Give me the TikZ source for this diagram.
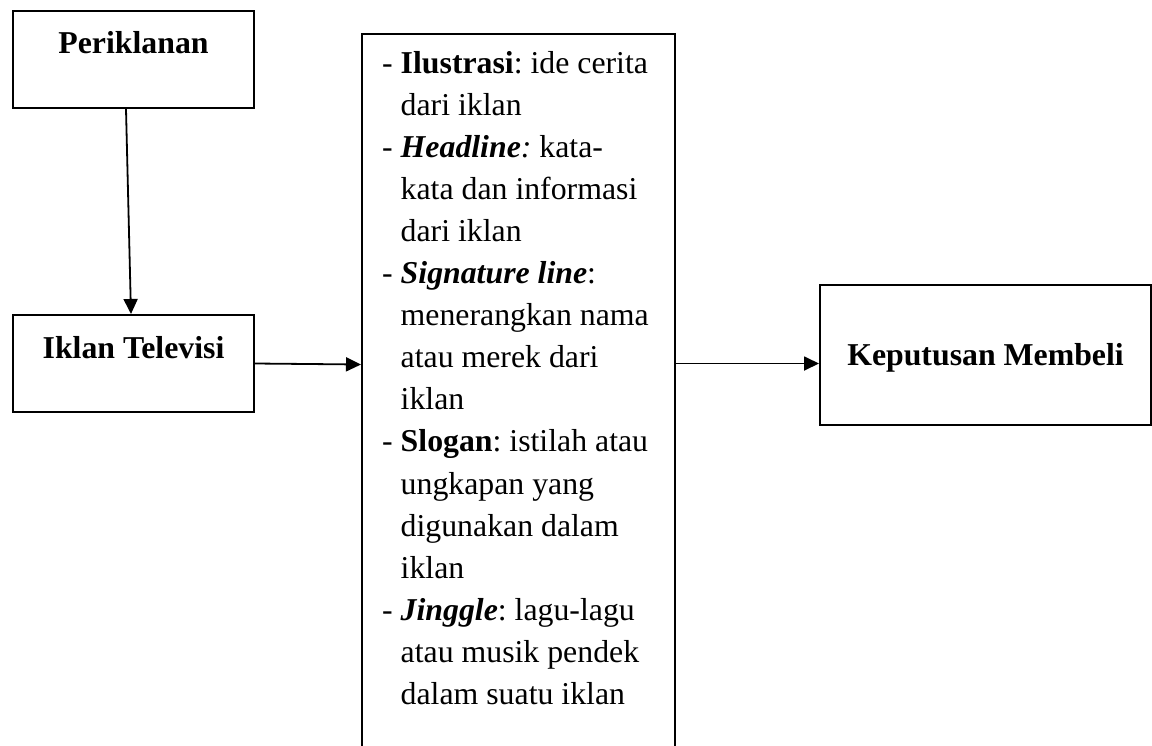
\documentclass[tikz,border=0pt]{standalone}
\usepackage{fontspec}
\setmainfont{Liberation Serif}
\usetikzlibrary{arrows.meta,calc}
\frenchspacing
\tikzset{
  box/.style={draw, line width=2pt, inner sep=0pt, anchor=north west,
    font=\fontsize{31.8}{38}\selectfont\bfseries},
  midbox/.style={draw, line width=2pt, inner sep=0pt, anchor=north west},
  lineitem/.style={inner sep=0pt, anchor=base west, font=\fontsize{31.8}{38}\selectfont\frenchspacing},
  conn/.style={line width=1.8pt, -{Triangle[length=15pt,width=14pt]}}
}
\begin{document}
\begin{tikzpicture}[x=1pt,y=-1pt]
\useasboundingbox (0,0) rectangle (1152,745);
\clip (0,0) rectangle (1152,745);
\node[box, minimum width=241pt, text height=42pt, text depth=55pt] (p) at (12,10) {Periklanan};
\node[box, minimum width=241pt, text height=43pt, text depth=54pt] (it) at (12,314) {Iklan Televisi};
\node[box, minimum width=331pt, text height=80pt, text depth=60pt] (km) at (819,284) {Keputusan Membeli};
\node[midbox, minimum width=313pt, minimum height=760pt] (mid) at (361,33) {};
\node[lineitem] (l1) at (382,73.0) {- \textbf{Ilustrasi}: ide cerita};
\node[lineitem] (l2) at (400.5,115.1) {dari iklan};
\node[lineitem] (l3) at (382,157.2) {- \textbf{\textit{Headline}}\textit{:} kata-};
\node[lineitem] (l4) at (400.5,199.3) {kata dan informasi};
\node[lineitem] (l5) at (400.5,241.4) {dari iklan};
\node[lineitem] (l6) at (382,283.5) {- \textbf{\textit{Signature line}}:};
\node[lineitem] (l7) at (400.5,325.6) {menerangkan nama};
\node[lineitem] (l8) at (400.5,367.7) {atau merek dari};
\node[lineitem] (l9) at (400.5,409.8) {iklan};
\node[lineitem] (l10) at (382,451.9) {- \textbf{Slogan}: istilah atau};
\node[lineitem] (l11) at (400.5,494.0) {ungkapan yang};
\node[lineitem] (l12) at (400.5,536.1) {digunakan dalam};
\node[lineitem] (l13) at (400.5,578.2) {iklan};
\node[lineitem] (l14) at (382,620.3) {- \textbf{\textit{Jinggle}}: lagu-lagu};
\node[lineitem] (l15) at (400.5,662.4) {atau musik pendek};
\node[lineitem] (l16) at (400.5,704.5) {dalam suatu iklan};
\coordinate (ptop) at ($(p.south)+(-7.5,0)$);
\coordinate (pend) at ($(it.north)+(-2.5,0)$);
\draw[conn] (ptop) -- (pend);
\draw[conn] (it.east) -- ($(it.east -| mid.west)+(0,1)$);
\draw[conn] (mid.east |- it.east) -- (km.west |- it.east);
\end{tikzpicture}
\end{document}
